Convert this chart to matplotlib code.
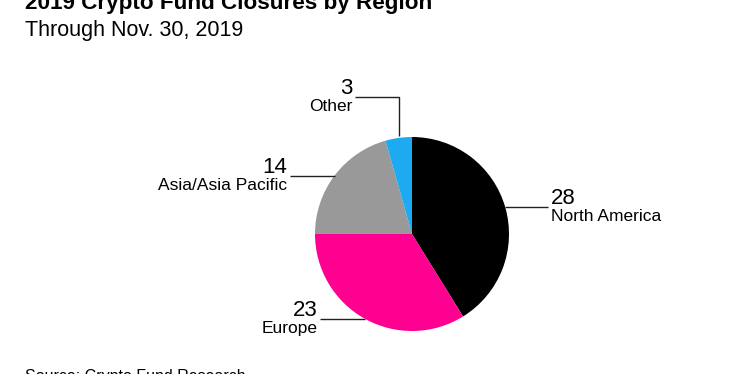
import numpy as np
import matplotlib
matplotlib.use("Agg")
import matplotlib.pyplot as plt

categories = ["North America", "Europe", "Asia/Asia Pacific", "Other"]
values = [28, 23, 14, 3]
colors = ["#000000", "#FF0090", "#999999", "#1EAAF1"]

W, H = 733, 374
plt.rcParams['font.family'] = ['Liberation Sans', 'DejaVu Sans']
fig = plt.figure(figsize=(W / 100, H / 100), dpi=100)
ax = fig.add_axes([0, 0, 1, 1])

cx, cy, r = 412, H - 234, 97
wedges, _ = ax.pie(values, colors=colors, startangle=90, counterclock=False,
                   center=(cx, cy), radius=r, frame=True,
                   wedgeprops=dict(linewidth=0))
ax.set_xlim(0, W)
ax.set_ylim(0, H)
ax.set_aspect('equal')
ax.axis('off')

line_kw = dict(color="#222222", lw=1.0, solid_capstyle='butt')
num_fs, lab_fs = 16, 12.5

def edge_point(w):
    ang = np.deg2rad((w.theta1 + w.theta2) / 2)
    return cx + r * np.cos(ang), cy + r * np.sin(ang)

for w, cat, val in zip(wedges, categories, values):
    ex, ey = edge_point(w)
    if cat == "Other":
        top_y = H - 97
        xend = 355
        ax.plot([ex, ex, xend], [ey + 2, top_y, top_y], **line_kw)
        tx, ty, ha = 352, top_y, 'right'
    elif ex > cx:
        xend = ex + 43
        ax.plot([ex, xend], [ey, ey], **line_kw)
        tx, ty, ha = xend + 3, ey, 'left'
    else:
        xend = ex - 45
        ax.plot([ex, xend], [ey, ey], **line_kw)
        tx, ty, ha = xend - 2, ey, 'right'
    ax.text(tx, ty + 3, f"{val}", fontsize=num_fs, ha=ha, va='baseline', color="#000000")
    ax.text(tx, ty - 2, cat, fontsize=lab_fs, ha=ha, va='top', color="#000000")

fig.text(25 / W, 1 - 9 / H, "2019 Crypto Fund Closures by Region", fontsize=16.2,
         fontweight='bold', ha='left', va='baseline', color="#000000")
fig.text(25 / W, 1 - 36 / H, "Through Nov. 30, 2019", fontsize=15.5,
         ha='left', va='baseline', color="#000000")
fig.text(25 / W, 1 - 369 / H, "Source: Crypto Fund Research", fontsize=11.5,
         ha='left', va='top', color="#000000")

fig.savefig("out.png", dpi=100)
